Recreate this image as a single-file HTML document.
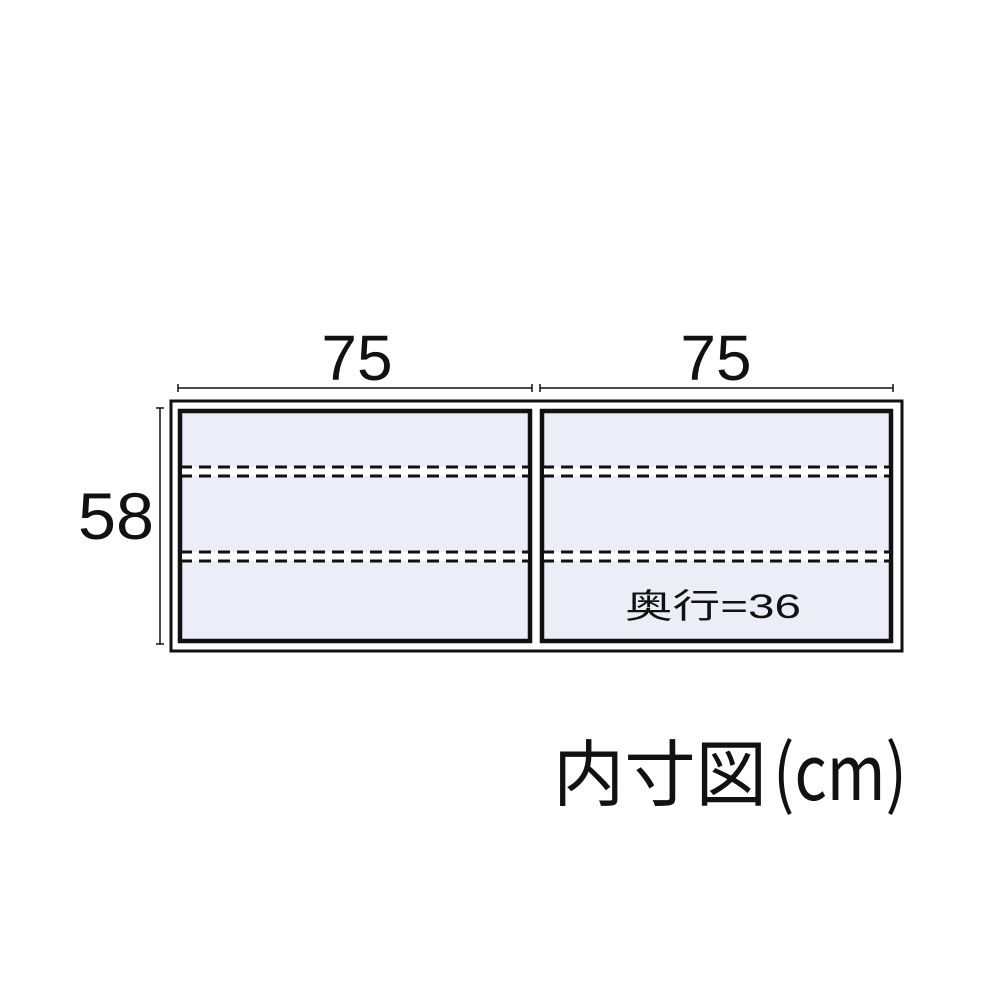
<!DOCTYPE html>
<html><head><meta charset="utf-8"><style>html,body{margin:0;padding:0;background:#fff}svg{display:block}</style></head>
<body>
<svg width="1000" height="1000" viewBox="0 0 1000 1000" xmlns="http://www.w3.org/2000/svg">
<rect x="171" y="401" width="731" height="250" fill="none" stroke="#111" stroke-width="3"/>
<rect x="180" y="411" width="350" height="230" fill="#ebeef7" stroke="#111" stroke-width="4.5"/>
<rect x="542" y="411" width="349" height="230" fill="#ebeef7" stroke="#111" stroke-width="4.5"/>
<g fill="#fff">
<rect x="182" y="467" width="346" height="9"/><rect x="544" y="467" width="345" height="9"/>
<rect x="182" y="552" width="346" height="9"/><rect x="544" y="552" width="345" height="9"/>
</g>
<g stroke="#111" stroke-width="3" stroke-dasharray="12,7" fill="none">
<line x1="180" y1="467" x2="531" y2="467"/><line x1="180" y1="476" x2="531" y2="476"/>
<line x1="180" y1="552" x2="531" y2="552"/><line x1="180" y1="561" x2="531" y2="561"/>
<line x1="542" y1="467" x2="891" y2="467"/><line x1="542" y1="476" x2="891" y2="476"/>
<line x1="542" y1="552" x2="891" y2="552"/><line x1="542" y1="561" x2="891" y2="561"/>
</g>
<g stroke="#111" stroke-width="1.5">
<line x1="178" y1="388" x2="532" y2="388"/><line x1="178" y1="384" x2="178" y2="392"/><line x1="532" y1="384" x2="532" y2="392"/>
<line x1="540" y1="388" x2="893" y2="388"/><line x1="540" y1="384" x2="540" y2="392"/><line x1="893" y1="384" x2="893" y2="392"/>
<line x1="160" y1="408" x2="160" y2="644"/><line x1="156" y1="408" x2="164" y2="408"/><line x1="156" y1="644" x2="164" y2="644"/>
</g>
<g font-family="Liberation Sans, Noto Sans CJK JP, sans-serif" fill="#111">
<text x="357" y="380" font-size="64" text-anchor="middle">75</text>
<text x="716" y="380" font-size="64" text-anchor="middle">75</text>
<text x="116" y="539" font-size="66" text-anchor="middle" textLength="76" lengthAdjust="spacingAndGlyphs">58</text>
<text x="625" y="618" font-size="34" textLength="176" lengthAdjust="spacingAndGlyphs">奥行=36</text>
<text x="553" y="800" font-size="72" font-family="Noto Sans CJK JP, sans-serif" textLength="214" lengthAdjust="spacingAndGlyphs">内寸図</text>
<text x="773" y="800" font-size="76" font-family="Noto Sans CJK JP, sans-serif" textLength="134" lengthAdjust="spacingAndGlyphs">(cm)</text>
</g>
</svg>
</body></html>
